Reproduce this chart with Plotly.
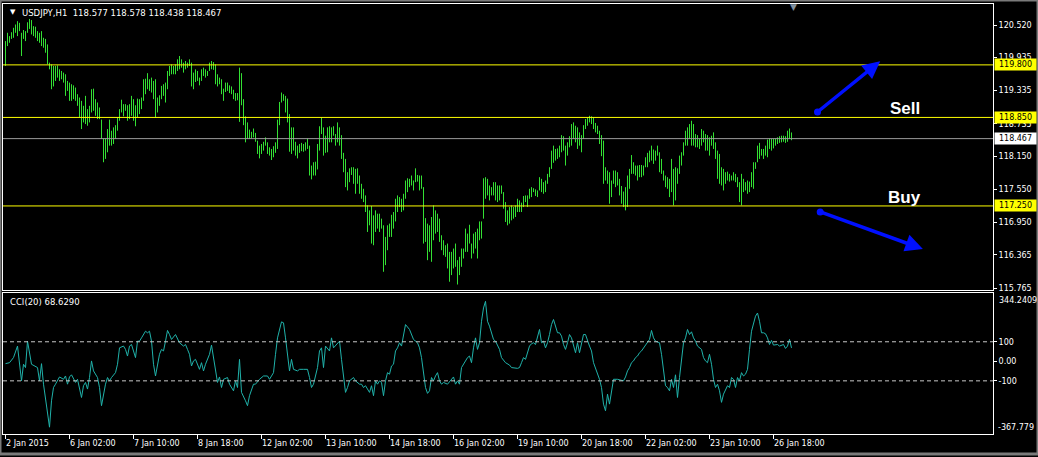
import plotly.graph_objects as go

# ---------------- data ----------------
bar_high = [
120.23,120.38,120.32,120.39,120.47,120.53,120.59,120.56,120.38,120.43,
120.41,120.57,120.63,120.61,120.50,120.49,120.41,120.38,120.41,120.29,
120.27,120.17,119.84,119.81,119.78,119.78,119.79,119.72,119.69,119.66,
119.63,119.51,119.48,119.45,119.43,119.39,119.27,119.21,119.15,119.06,
119.24,119.00,119.06,119.36,119.37,119.18,119.12,119.03,118.81,118.47,
118.47,118.64,118.81,118.61,118.67,118.71,118.85,119.00,119.17,119.09,
119.09,119.07,119.09,119.24,119.18,119.07,119.19,119.18,119.21,119.54,
119.55,119.65,119.54,119.57,119.51,119.54,119.21,119.25,119.42,119.45,
119.48,119.69,119.78,119.81,119.78,119.81,119.90,119.96,119.90,119.84,
119.87,119.84,119.90,119.84,119.66,119.72,119.69,119.57,119.72,119.75,
119.72,119.69,119.84,119.87,119.85,119.81,119.63,119.57,119.54,119.37,
119.48,119.48,119.43,119.41,119.35,119.29,119.29,119.75,119.65,119.18,
118.87,118.76,118.63,118.59,118.65,118.57,118.43,118.34,118.37,118.41,
118.49,118.40,118.31,118.28,118.33,118.40,118.81,119.13,119.30,119.27,
119.24,119.19,118.91,118.67,118.67,118.41,118.34,118.37,118.39,118.37,
118.40,118.47,118.34,117.98,118.04,118.05,118.37,118.69,118.85,118.67,
118.52,118.67,118.69,118.67,118.69,118.55,118.76,118.67,118.53,118.21,
118.10,117.86,117.93,117.95,117.95,117.92,117.93,117.80,117.65,117.56,
117.44,117.26,117.17,117.25,117.08,117.17,117.11,117.11,117.02,116.90,
116.69,116.90,116.93,117.09,117.14,117.38,117.44,117.41,117.38,117.47,
117.71,117.75,117.74,117.80,117.71,117.93,117.81,117.80,117.80,117.59,
117.03,116.93,116.90,117.05,117.26,117.17,117.11,117.02,116.72,116.63,
116.54,116.57,116.42,116.42,116.48,116.57,116.27,116.33,116.48,116.48,
116.84,116.75,116.91,116.57,116.75,116.78,116.84,116.97,116.97,117.75,
117.77,117.74,117.62,117.59,117.68,117.68,117.62,117.62,117.62,117.50,
117.32,117.17,117.23,117.26,117.23,117.26,117.38,117.35,117.31,117.43,
117.44,117.44,117.56,117.59,117.57,117.55,117.53,117.77,117.74,117.68,
117.71,117.83,117.95,118.25,118.34,118.28,118.29,118.34,118.53,118.51,
118.34,118.40,118.51,118.73,118.76,118.70,118.67,118.58,118.53,118.71,
118.82,118.85,118.88,118.87,118.85,118.75,118.70,118.61,118.53,118.43,
117.95,117.89,117.86,117.71,117.89,117.89,117.86,117.74,117.61,117.51,
117.59,117.80,117.92,118.17,118.04,117.98,117.98,117.99,117.99,117.98,
118.13,118.21,118.25,118.34,118.27,118.25,118.34,118.22,118.10,117.89,
117.80,117.77,117.74,118.10,117.92,117.95,117.93,118.16,118.22,118.40,
118.61,118.67,118.73,118.79,118.73,118.55,118.53,118.46,118.64,118.61,
118.55,118.53,118.49,118.52,118.58,118.40,118.25,118.19,117.95,117.92,
117.86,117.87,117.83,117.80,117.86,117.83,117.77,117.68,117.83,117.74,
117.68,117.71,117.69,117.86,118.04,118.04,118.34,118.39,118.28,118.28,
118.34,118.45,118.47,118.46,118.46,118.47,118.49,118.51,118.52,118.52,
118.51,118.61,118.65,118.578]

bar_low = [
119.78,120.14,120.20,120.27,120.29,120.38,120.32,120.41,119.96,120.27,
120.23,120.38,120.45,120.35,120.32,120.29,120.23,120.20,120.14,120.11,
120.02,119.81,119.72,119.36,119.41,119.51,119.57,119.51,119.54,119.48,
119.24,119.33,119.15,119.15,119.18,119.15,119.06,118.85,118.64,118.76,
118.73,118.70,118.76,118.94,118.97,118.88,118.82,118.82,118.46,118.04,
118.10,118.22,118.34,118.34,118.37,118.46,118.61,118.79,118.94,118.87,
118.97,118.79,118.82,118.88,118.79,118.69,118.85,118.91,119.00,119.15,
119.27,119.36,119.33,119.30,119.18,118.85,118.94,119.06,119.18,119.24,
119.12,119.36,119.60,119.63,119.63,119.63,119.69,119.72,119.75,119.66,
119.72,119.75,119.78,119.41,119.36,119.49,119.51,119.43,119.51,119.60,
119.57,119.60,119.69,119.72,119.71,119.45,119.41,119.45,119.27,119.15,
119.31,119.33,119.29,119.27,119.18,119.15,119.16,118.77,119.07,118.71,
118.40,118.46,118.46,118.47,118.49,118.41,118.19,118.11,118.19,118.25,
118.34,118.19,118.16,118.08,118.13,118.21,118.28,118.71,119.12,119.15,
118.94,118.76,118.23,118.19,118.25,118.16,118.11,118.21,118.24,118.23,
118.25,118.28,117.80,117.73,117.80,117.80,117.91,118.25,118.55,118.16,
118.21,118.22,118.40,118.40,118.52,118.34,118.40,118.34,118.10,117.86,
117.59,117.53,117.68,117.81,117.65,117.47,117.65,117.47,117.38,117.32,
117.14,116.78,116.90,116.57,116.54,116.78,116.84,116.78,116.84,116.06,
116.18,116.45,116.69,116.69,116.84,116.97,117.14,117.23,117.14,117.17,
117.38,117.50,117.59,117.62,117.53,117.68,117.69,117.53,117.56,116.57,
116.60,116.27,116.42,116.24,116.63,116.75,116.78,116.60,116.45,116.36,
116.33,116.12,115.88,116.00,116.12,116.15,115.83,116.00,116.15,116.30,
116.42,116.42,116.57,116.30,116.39,116.48,116.30,116.63,116.66,117.02,
117.38,117.44,117.35,117.44,117.44,117.35,117.32,117.35,117.47,117.20,
116.96,116.90,116.93,116.99,117.02,117.05,117.14,117.14,117.14,117.23,
117.32,117.23,117.38,117.41,117.50,117.43,117.41,117.53,117.50,117.47,
117.50,117.65,117.77,117.92,118.03,118.07,118.10,118.13,118.22,118.25,
117.98,118.16,118.31,118.34,118.46,118.40,118.28,118.34,118.22,118.46,
118.64,118.70,118.76,118.73,118.64,118.58,118.55,118.37,118.15,117.65,
117.71,117.65,117.29,117.41,117.65,117.59,117.62,117.44,117.29,117.23,
117.17,117.23,117.56,117.83,117.83,117.80,117.71,117.77,117.77,117.80,
117.95,117.95,118.04,118.07,118.01,118.07,118.16,117.86,117.83,117.71,
117.59,117.56,117.41,117.50,117.26,117.35,117.65,117.83,117.98,118.16,
118.34,118.34,118.46,118.34,118.34,118.31,118.31,118.28,118.34,118.40,
118.25,118.25,118.16,118.34,118.28,118.10,117.74,117.65,117.62,117.53,
117.65,117.71,117.69,117.71,117.71,117.68,117.59,117.32,117.26,117.50,
117.53,117.47,117.50,117.59,117.56,117.92,118.04,118.10,118.16,118.10,
118.16,118.13,118.28,118.25,118.29,118.34,118.37,118.39,118.40,118.41,
118.39,118.41,118.46,118.438]

cci_bar = [0,2,4,5,6,8,9,10,11,13,15,16,17,18,19,21,22,23,24,25,26,27,29,30,31,32,33,35,36,37,38,39,40,41,42,43,44,46,47,48,49,50,51,52,53,55,56,57,59,60,61,62,63,65,66,67,68,70,71,72,73,74,75,76,77,78,79,80,81,82,83,85,87,89,90,91,92,93,94,95,97,98,99,100,102,103,104,105,106,107,108,109,111,112,113,114,115,116,117,118,120,121,122,124,125,127,129,131,132,134,135,136,138,139,140,141,142,143,144,146,147,149,151,152,153,154,156,157,158,159,160,162,163,164,166,167,168,
169,170,171,172,174,175,177,178,179,180,182,183,184,185,186,187,188,189,190,191,192,193,194,195,196,197,198,199,200,202,203,204,206,207,208,209,210,211,212,213,214,215,216,217,218,219,221,224,225,226,227,228,229,231,232,233,234,235,236,237,238,239,240,241,242,243,244,245,246,247,248,250,252,253,256,257,258,259,260,261,262,263,264,265,266,267,268,269,270,271,272,273,274,275,276,277,278,279,280,281,282,283,284,285,286,287,289,290,292,293,294,296,297,298,299,300,301,302,303,304,306,309,310,311,312,313,314,315,316,317,318,319,320,321,322,323,324,325,327,328,329,330,331,332,333,334,335,336,337,338,339,340,341,342,343,344,345,346,347,348,349,350,351,352,353,354,355,356,357,358,359,360,361,362,363,364,365,366,367,368,369,370,371,372,373,375,376,377,378,379,380,381,382,383,384,386,387,389,390,391,392,393]
cci_val = [-12,-7,19,44,78,-100,-15,-32,103,-15,-24,-32,-100,-12,-117,-253,-337,-202,-134,-117,-100,-80,-92,-75,-117,-80,-69,-108,-92,-134,-185,-125,-108,-142,-83,2,-49,-83,-134,-227,-168,-117,-83,-100,-83,-58,-15,69,78,61,27,78,86,19,103,103,120,154,146,154,103,-15,-75,-15,36,61,53,103,158,137,112,137,95,78,86,61,36,-24,2,10,-41,-7,-49,-15,36,83,19,-66,-108,-80,-134,-92,-83,-117,-134,-151,-100,-134,10,-159,-202,-227,-176,-117,-117,-92,-75,-75,-92,-58,36,120,202,197,120,19,-49,10,-41,-49,-41,-41,-41,-83,-134,-117,-32,53,69,-32,78,53,120,69,95,103,10,
-92,-159,-134,-100,-83,-100,-117,-117,-134,-125,-159,-125,-176,-100,-117,-100,-108,-176,-100,-58,-66,-24,-15,53,69,95,78,137,188,163,137,112,95,69,19,-66,-134,-164,-151,-83,-100,-75,-58,-100,-117,-108,-117,-80,-117,-100,-117,-32,-15,19,27,-7,69,120,61,95,205,273,307,205,180,146,112,103,78,61,19,-7,-19,-32,-36,-32,-7,19,10,44,78,90,95,86,120,163,95,103,69,95,137,188,214,180,146,146,129,86,61,95,137,120,86,44,95,44,137,137,78,53,-7,-66,-92,-134,-219,-253,-168,-219,-142,-92,-92,-100,-80,-49,-32,-7,2,19,27,44,53,69,86,103,112,158,120,103,95,36,-41,-125,-134,-151,-92,-134,-69,-185,-83,19,95,120,163,137,151,120,103,78,69,61,19,2,-7,36,-15,-92,-134,-117,-151,-210,-168,-142,-125,-134,-83,-92,-134,-83,-100,-58,-75,-66,-41,61,154,231,247,205,146,146,141,120,86,107,83,86,78,86,66,78,112,68.629]

tick_bars = [0, 32, 64, 96, 128, 160, 192, 224, 256, 288, 320, 352, 384]
tick_labels = ["2 Jan 2015", "6 Jan 02:00", "7 Jan 10:00", "8 Jan 18:00", "12 Jan 02:00",
               "13 Jan 10:00", "14 Jan 18:00", "16 Jan 02:00", "19 Jan 10:00", "20 Jan 18:00",
               "22 Jan 02:00", "23 Jan 10:00", "26 Jan 18:00"]
price_ticks = [120.520, 119.935, 119.335, 118.735, 118.150, 117.550, 116.950, 116.365, 115.765]
cci_ticks = [100, 0, -100]
cci_tick_text = ["100", "0.00", "-100"]
level_lines = [119.800, 118.850, 117.250]
last_close = 118.467
cci_max_label, cci_min_label = "344.2409", "-367.779"
title_text = "USDJPY,H1  118.577 118.578 118.438 118.467"
cci_title = "CCI(20) 68.6290"

# ---------------- figure ----------------
W, H = 1038, 457
FONT = "DejaVu Sans"
GREEN = "#33e033"
BLUE = "#0010ff"

def px_x(p):
    return p / W

def px_y(p):
    return 1 - p / H

bx, by = [], []
for i, (hi, lo) in enumerate(zip(bar_high, bar_low)):
    bx += [i, i, None]
    by += [lo, hi, None]

fig = go.Figure()
fig.add_trace(go.Scatter(x=bx, y=by, mode="lines", line=dict(color=GREEN, width=1),
                         hoverinfo="skip", showlegend=False, xaxis="x", yaxis="y"))
fig.add_trace(go.Scatter(x=cci_bar, y=cci_val, mode="lines", line=dict(color="#20B2AA", width=1),
                         hoverinfo="skip", showlegend=False, xaxis="x2", yaxis="y2"))

xr = [-1.25, 493.75]
xdom = [px_x(3), px_x(993)]
axis_common = dict(showgrid=False, zeroline=False, showline=True, mirror=True,
                   linecolor="white", linewidth=1)
fig.update_layout(
    width=W, height=H, margin=dict(l=0, r=0, t=0, b=0),
    paper_bgcolor="black", plot_bgcolor="black", showlegend=False,
    font=dict(family=FONT, size=8, color="white"),
    xaxis=dict(domain=xdom, range=xr, showticklabels=False, ticks="", anchor="y", **axis_common),
    yaxis=dict(domain=[px_y(292), px_y(4.5)], range=[115.729, 120.892], side="right",
               tickvals=price_ticks, ticktext=[f"{v:.3f}" for v in price_ticks],
               ticks="outside", ticklen=3, tickcolor="white", anchor="x",
               tickfont=dict(family=FONT, size=8, color="white"), **axis_common),
    xaxis2=dict(domain=xdom, range=xr, anchor="y2", tickvals=tick_bars, ticktext=[""] * len(tick_bars),
                ticks="outside", ticklen=4, tickcolor="white", **axis_common),
    yaxis2=dict(domain=[px_y(437), px_y(294.7)], range=[-372.6, 350.8], side="right",
                tickvals=cci_ticks, ticktext=cci_tick_text, ticks="outside", ticklen=3,
                tickcolor="white", anchor="x2",
                tickfont=dict(family=FONT, size=8, color="white"), **axis_common),
)

shapes = []
for lv in level_lines:
    shapes.append(dict(type="line", xref="x domain", yref="y", x0=0, x1=1, y0=lv, y1=lv,
                       line=dict(color="#ffff00", width=1)))
shapes.append(dict(type="line", xref="x domain", yref="y", x0=0, x1=1, y0=last_close, y1=last_close,
                   line=dict(color="#9a9a9a", width=1)))
for lv in (100, -100):
    shapes.append(dict(type="line", xref="x2 domain", yref="y2", x0=0, x1=1, y0=lv, y1=lv,
                       line=dict(color="#c8c8c8", width=1, dash="4px,3px")))
# outer window frame
shapes.append(dict(type="rect", xref="paper", yref="paper", x0=0, x1=1, y0=0, y1=1,
                   line=dict(color="#7a7a7a", width=3)))

# blue trend arrows (drawn objects): tail and tip positions
arrows = [((406.0, 118.949), (437.35, 119.865)), ((407.35, 117.142), (458.7, 116.471))]
annotations = []
for (tx, ty), (hx, hy) in arrows:
    annotations.append(dict(x=hx, y=hy, xref="x", yref="y", ax=tx, ay=ty, axref="x", ayref="y",
                            text="", showarrow=True, arrowhead=2, arrowsize=1.0, arrowwidth=3.5,
                            arrowcolor=BLUE, standoff=0, startstandoff=0))
    shapes.append(dict(type="circle", xref="x", yref="y", xsizemode="pixel", ysizemode="pixel",
                       xanchor=tx, yanchor=ty, x0=-3.5, x1=3.5, y0=-3.5, y1=3.5,
                       fillcolor=BLUE, line=dict(color=BLUE, width=0)))

annotations.append(dict(x=449.5, y=119.015, xref="x", yref="y", text="Sell", showarrow=False,
                        font=dict(family="Liberation Sans", size=17, color="white", weight="bold")))
annotations.append(dict(x=449.25, y=117.408, xref="x", yref="y", text="Buy", showarrow=False,
                        font=dict(family="Liberation Sans", size=17, color="white", weight="bold")))

# price labels on the right (boxes)
for lv in level_lines:
    annotations.append(dict(x=px_x(994.3), y=lv, xref="paper", yref="y", xanchor="left", yanchor="middle",
                            text=f"{lv:.3f}", showarrow=False, bgcolor="#ffff00", width=41, height=11,
                            borderpad=0, font=dict(family=FONT, size=8, color="black")))
annotations.append(dict(x=px_x(994.3), y=last_close, xref="paper", yref="y", xanchor="left", yanchor="middle",
                        text=f"{last_close:.3f}", showarrow=False, bgcolor="white", width=41, height=11,
                        borderpad=0, font=dict(family=FONT, size=8, color="black")))
annotations.append(dict(x=px_x(997), y=px_y(302), xref="paper", yref="paper", xanchor="left",
                        yanchor="middle", text=cci_max_label, showarrow=False,
                        font=dict(family=FONT, size=8, color="white")))
annotations.append(dict(x=px_x(996), y=px_y(430.5), xref="paper", yref="paper", xanchor="left",
                        yanchor="middle", text=cci_min_label, showarrow=False,
                        font=dict(family=FONT, size=8, color="white")))

# time labels
for tb, tl in zip(tick_bars, tick_labels):
    annotations.append(dict(x=tb, y=px_y(446.5), xref="x2", yref="paper", xanchor="left",
                            yanchor="middle", text=tl, showarrow=False, xshift=-2,
                            font=dict(family=FONT, size=8, color="white")))

# titles
annotations.append(dict(x=px_x(7.5), y=px_y(12.5), xref="paper", yref="paper", xanchor="left",
                        yanchor="middle", text="▼", showarrow=False,
                        font=dict(family=FONT, size=7, color="white")))
annotations.append(dict(x=px_x(19.5), y=px_y(12.7), xref="paper", yref="paper", xanchor="left",
                        yanchor="middle", text=title_text, showarrow=False,
                        font=dict(family=FONT, size=8.5, color="white")))
annotations.append(dict(x=px_x(8), y=px_y(303.5), xref="paper", yref="paper", xanchor="left",
                        yanchor="middle", text=cci_title, showarrow=False,
                        font=dict(family=FONT, size=8.5, color="white")))
# chart shift marker
annotations.append(dict(x=px_x(793), y=px_y(7), xref="paper", yref="paper", xanchor="center",
                        yanchor="middle", text="▼", showarrow=False,
                        font=dict(family=FONT, size=9, color="#8090a0")))

fig.update_layout(shapes=shapes, annotations=annotations)
fig.write_html("out.html", config={"displayModeBar": False},
               post_script="document.body.style.margin='0';document.body.style.background='black';")
